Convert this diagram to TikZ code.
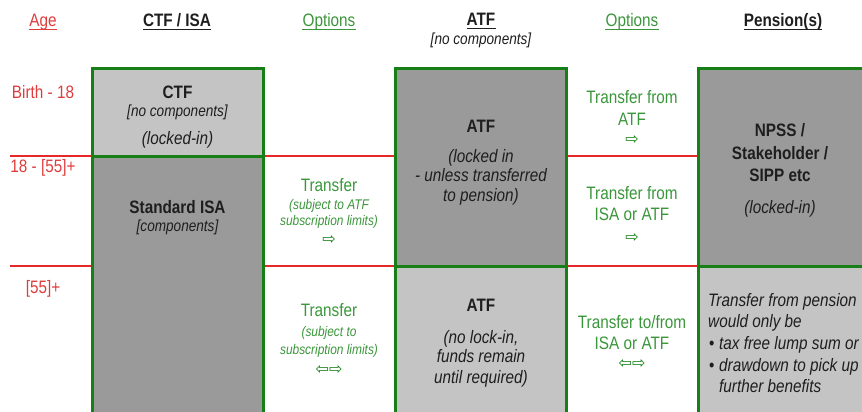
\documentclass[tikz,border=0pt]{standalone}
\usepackage{fontspec}
\setmainfont{Liberation Sans}[FakeStretch=0.85]
\newfontfamily\arrowfont{DejaVu Sans}
\definecolor{gborder}{RGB}{22,128,22}
\definecolor{gtext}{RGB}{58,150,58}
\definecolor{redln}{RGB}{230,40,40}
\definecolor{rtext}{RGB}{222,60,60}
\definecolor{dgray}{RGB}{154,154,154}
\definecolor{lgray}{RGB}{196,196,196}
\definecolor{txtblack}{RGB}{30,30,30}
\begin{document}
\begin{tikzpicture}[x=1pt,y=-1pt,
  every node/.style={inner sep=0pt, anchor=base},
  body/.style={font=\fontsize{18}{20}\selectfont, text=txtblack},
  bold/.style={font=\fontsize{18}{20}\selectfont\bfseries, text=txtblack},
  ital/.style={font=\fontsize{18}{20}\selectfont\itshape, text=txtblack},
  smital/.style={font=\fontsize{16}{18}\selectfont\itshape, text=txtblack},
  age/.style={font=\fontsize{18}{20}\selectfont, text=rtext},
  opt/.style={font=\fontsize{18}{20}\selectfont, text=gtext},
  optsm/.style={font=\fontsize{14}{15}\selectfont\itshape, text=gtext},
  arr/.style={font=\arrowfont\fontsize{16}{16}\selectfont, text=gborder, anchor=center},
  gline/.style={draw=gborder, line width=3pt},
  ul/.style={line width=1.4pt}
]
\useasboundingbox (0,0) rectangle (862,412);
\clip (0,0) rectangle (862,412);
% fills
\fill[lgray] (92,69) rectangle (263,156);
\fill[dgray] (92,156) rectangle (263,420);
\fill[dgray] (395,69) rectangle (566,266);
\fill[lgray] (395,266) rectangle (566,420);
\fill[dgray] (698,69) rectangle (870,266);
\fill[lgray] (698,266) rectangle (870,420);
% red age lines
\fill[redln] (10,154.5) rectangle (92,156.5);
\fill[redln] (263,154.5) rectangle (395,156.5);
\fill[redln] (566,154.5) rectangle (698,156.5);
\fill[redln] (10,264.5) rectangle (92,266.5);
\fill[redln] (263,264.5) rectangle (395,266.5);
\fill[redln] (566,264.5) rectangle (698,266.5);
% green borders
\draw[gline] (92,420) -- (92,69) -- (263,69) -- (263,420);
\draw[gline] (92,156) -- (263,156);
\draw[gline] (395,420) -- (395,69) -- (566,69) -- (566,420);
\draw[gline] (395,266) -- (566,266);
\draw[gline] (698,420) -- (698,69) -- (870,69);
\draw[gline] (698,266) -- (870,266);

% headers
\node[age] (hage) at (43,27) {Age};
\node[bold] (hctf) at (177,27) {CTF / ISA};
\node[opt] (hopt1) at (329,27) {Options};
\node[bold] (hatf) at (481,26) {ATF};
\node[smital] (hatfc) at (481,45) {[no components]};
\node[opt] (hopt2) at (632,27) {Options};
\node[bold] (hpen) at (783,27) {Pension(s)};
\draw[ul,rtext] ([yshift=-2.5pt]hage.base west) -- ([yshift=-2.5pt]hage.base east);
\draw[ul,txtblack] ([yshift=-2.5pt]hctf.base west) -- ([yshift=-2.5pt]hctf.base east);
\draw[ul,gtext] ([yshift=-2.5pt]hopt1.base west) -- ([yshift=-2.5pt]hopt1.base east);
\draw[ul,txtblack] ([yshift=-2.5pt]hatf.base west) -- ([yshift=-2.5pt]hatf.base east);
\draw[ul,gtext] ([yshift=-2.5pt]hopt2.base west) -- ([yshift=-2.5pt]hopt2.base east);
\draw[ul,txtblack] ([yshift=-2.5pt]hpen.base west) -- ([yshift=-2.5pt]hpen.base east);

% age labels
\node[age] (a1) at (43,98) {Birth - 18};
\node[age] (a2) at (43,172) {18 - [55]+};
\node[age] (a3) at (43,293) {[55]+};

% CTF box
\node[bold] (ctf1) at (177.5,98) {CTF};
\node[smital] (ctf2) at (177.5,116) {[no components]};
\node[ital] (ctf3) at (177.5,144) {(locked-in)};
% ISA box
\node[bold] (isa1) at (177.5,213) {Standard ISA};
\node[smital] (isa2) at (177.5,231) {[components]};

% options 1 middle
\node[opt] (o1a) at (329,191) {Transfer};
\node[optsm] (o1b) at (329,209) {(subject to ATF};
\node[optsm] (o1c) at (329,225) {subscription limits)};
\node[arr] (o1d) at (329,240) {⇨};
% options 1 bottom
\node[opt] (o2a) at (329,316) {Transfer};
\node[optsm] (o2b) at (329,336) {(subject to};
\node[optsm] (o2c) at (329,354) {subscription limits)};
\node[arr] (o2d) at (329,370) {⇦⇨};

% ATF upper
\node[bold] (atf1) at (481,132) {ATF};
\node[ital] (atf2) at (481,162) {(locked in};
\node[ital] (atf3) at (481,181) {- unless transferred};
\node[ital] (atf4) at (481,201) {to pension)};
% ATF lower
\node[bold] (atl1) at (481,311) {ATF};
\node[ital] (atl2) at (481,343) {(no lock-in,};
\node[ital] (atl3) at (481,362) {funds remain};
\node[ital] (atl4) at (481,383) {until required)};

% options 2
\node[opt] (p1a) at (632,103) {Transfer from};
\node[opt] (p1b) at (632,125) {ATF};
\node[arr] (p1c) at (632,140) {⇨};
\node[opt] (p2a) at (632,199) {Transfer from};
\node[opt] (p2b) at (632,220) {ISA or ATF};
\node[arr] (p2c) at (632,238) {⇨};
\node[opt] (p3a) at (632,328) {Transfer to/from};
\node[opt] (p3b) at (632,349) {ISA or ATF};
\node[arr] (p3c) at (632,364) {⇦⇨};

% pension upper
\node[bold] (n1) at (780,136) {NPSS /};
\node[bold] (n2) at (780,159) {Stakeholder /};
\node[bold] (n3) at (780,181) {SIPP etc};
\node[ital] (n4) at (780,213) {(locked-in)};
% pension lower
\node[ital, anchor=base west] (q1) at (708,306) {Transfer from pension};
\node[ital, anchor=base west] (q2) at (708,327) {would only be};
\node[body, anchor=base west] (q3b) at (709,349) {•};
\node[ital, anchor=base west] (q3) at (719,349) {tax free lump sum or};
\node[body, anchor=base west] (q4b) at (709,371) {•};
\node[ital, anchor=base west] (q4) at (719,371) {drawdown to pick up};
\node[ital, anchor=base west] (q5) at (719,392) {further benefits};
\end{tikzpicture}
\end{document}
